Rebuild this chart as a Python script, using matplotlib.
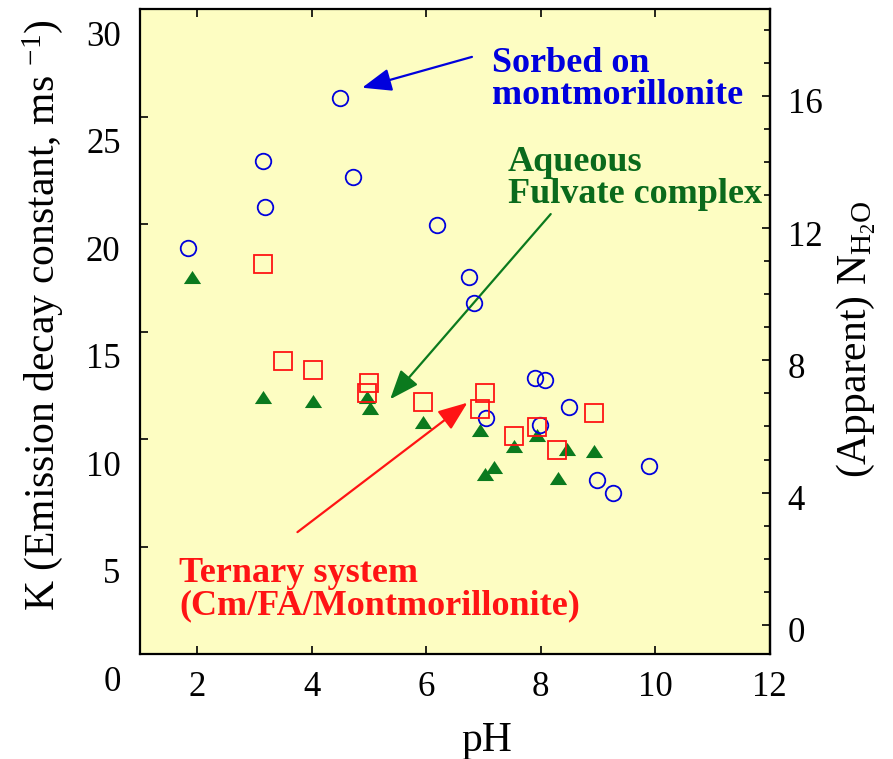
import matplotlib
matplotlib.use('Agg')
import matplotlib.pyplot as plt
from matplotlib.ticker import MultipleLocator
from matplotlib.transforms import ScaledTranslation

plt.rcParams['font.family'] = ['Liberation Serif', 'DejaVu Serif']
plt.rcParams['mathtext.fontset'] = 'custom'
plt.rcParams['mathtext.rm'] = 'Liberation Serif'
plt.rcParams['mathtext.it'] = 'Liberation Serif:italic'
plt.rcParams['mathtext.bf'] = 'Liberation Serif:bold'

# Cm(III) sorbed on montmorillonite
sorbed_ph = [1.84, 3.14, 3.18, 4.49, 4.72, 6.19, 6.75, 6.83, 7.04, 7.90, 8.07, 7.98, 8.50, 8.98, 9.26, 9.89]
sorbed_k = [18.90, 22.93, 20.80, 25.87, 22.19, 19.95, 17.52, 16.34, 10.96, 12.85, 12.74, 10.65, 11.50, 8.09, 7.47, 8.74]

# aqueous Cm-fulvate complex
aqueous_ph = [1.91, 3.14, 4.02, 4.97, 5.01, 5.95, 6.94, 7.03, 7.19, 7.54, 7.94, 8.30, 8.46, 8.93]
aqueous_k = [17.54, 11.97, 11.78, 11.97, 11.46, 10.81, 10.42, 8.37, 8.71, 9.67, 10.19, 8.17, 9.53, 9.46]

# ternary system Cm/FA/montmorillonite
ternary_ph = [3.14, 3.50, 4.02, 5.00, 4.97, 5.95, 7.03, 6.94, 7.54, 7.94, 8.29, 8.93]
ternary_k = [18.15, 13.61, 13.19, 12.59, 12.13, 11.72, 12.15, 11.40, 10.14, 10.57, 9.49, 11.19]

blue = '#0000dd'
green = '#0b7a1e'
red = '#ff1414'


def k_to_n(k):
	return 0.65 * k - 0.88


def n_to_k(n):
	return (n + 0.88) / 0.65


fig = plt.figure(figsize=(8.93, 7.59), dpi=100)
ax = fig.add_axes([0.1568, 0.1383, 0.7051, 0.8498])
ax.set_facecolor('#fdfdc2')

triangle = [(-1, -0.76), (1, -0.76), (0, 0.76), (-1, -0.76)]
ax.plot(aqueous_ph, aqueous_k, linestyle='none', marker=triangle, ms=12.4,
		mfc=green, mec=green, mew=0, zorder=3)
ax.plot(sorbed_ph, sorbed_k, linestyle='none', marker='o', ms=11.2,
		mfc='none', mec=blue, mew=1.3, zorder=4)
ax.plot(ternary_ph, ternary_k, linestyle='none', marker='s', ms=13,
		mfc='none', mec=red, mew=1.3, zorder=5)

ax.set_xlim(1, 12)
ax.set_ylim(0, 30)
ax.set_xticks([2, 4, 6, 8, 10, 12])
ax.set_yticks([0, 5, 10, 15, 20, 25, 30])
ax.tick_params(axis='both', direction='in', length=6, width=1.2, labelsize=25)
ax.tick_params(axis='x', top=True, pad=12)
ax.tick_params(axis='y', right=False, pad=14)
for spine in ax.spines.values():
	spine.set_linewidth(1.6)

# y labels sit a little below their ticks
shift_down = ScaledTranslation(0, -0.24, fig.dpi_scale_trans)
for tick in ax.yaxis.get_major_ticks():
	tick.label1.set_transform(tick.label1.get_transform() + shift_down)

sec = ax.secondary_yaxis('right', functions=(k_to_n, n_to_k))
sec.set_yticks([0, 4, 8, 12, 16])
sec.yaxis.set_minor_locator(MultipleLocator(1))
sec.tick_params(which='both', direction='in', width=1.2, labelsize=25, pad=13)
sec.tick_params(which='major', length=6)
sec.tick_params(which='minor', length=4)
sec.spines['right'].set_linewidth(1.6)
nudge = ScaledTranslation(0, -0.05, fig.dpi_scale_trans)
for tick in sec.yaxis.get_major_ticks():
	tick.label2.set_transform(tick.label2.get_transform() + nudge)

ax.set_xlabel('pH', fontsize=30)
ax.xaxis.set_label_coords(0.551, -0.105)
ax.set_ylabel(r'K (Emission decay constant, ms $^{\mathregular{-1}}$)', fontsize=30)
ax.yaxis.set_label_coords(-0.119, 0.526)
sec.set_ylabel(r'(Apparent) N$_{\mathregular{H_2O}}$', fontsize=30)
sec.yaxis.set_label_coords(1.103, 0.488, transform=ax.transAxes)

head = '-|>,head_length=0.9,head_width=0.35'
ax.annotate('Sorbed on\nmontmorillonite', xy=(4.88, 26.34), xytext=(7.15, 26.72),
			color=blue, fontsize=26, fontweight='bold', ha='left', va='center',
			linespacing=0.95,
			arrowprops=dict(arrowstyle=head, color=blue, lw=1.6, mutation_scale=20,
							shrinkA=0, shrinkB=0, relpos=(-0.08, 0.85)))
ax.annotate('Aqueous\nFulvate complex', xy=(5.37, 11.85), xytext=(7.42, 22.12),
			color='#0a6a1c', fontsize=26, fontweight='bold', ha='left', va='center',
			linespacing=0.95,
			arrowprops=dict(arrowstyle=head, color=green, lw=1.6, mutation_scale=20,
							shrinkA=0, shrinkB=0, relpos=(0.17, -0.05)))
ax.annotate('', xy=(6.72, 11.69), xytext=(3.75, 5.67),
			arrowprops=dict(arrowstyle=head, color=red, lw=1.6, mutation_scale=20,
							shrinkA=0, shrinkB=0))
ax.text(1.68, 3.0, 'Ternary system\n(Cm/FA/Montmorillonite)', color=red,
		fontsize=26, fontweight='bold', ha='left', va='center', linespacing=0.95)

fig.savefig('out.png', dpi=100)
